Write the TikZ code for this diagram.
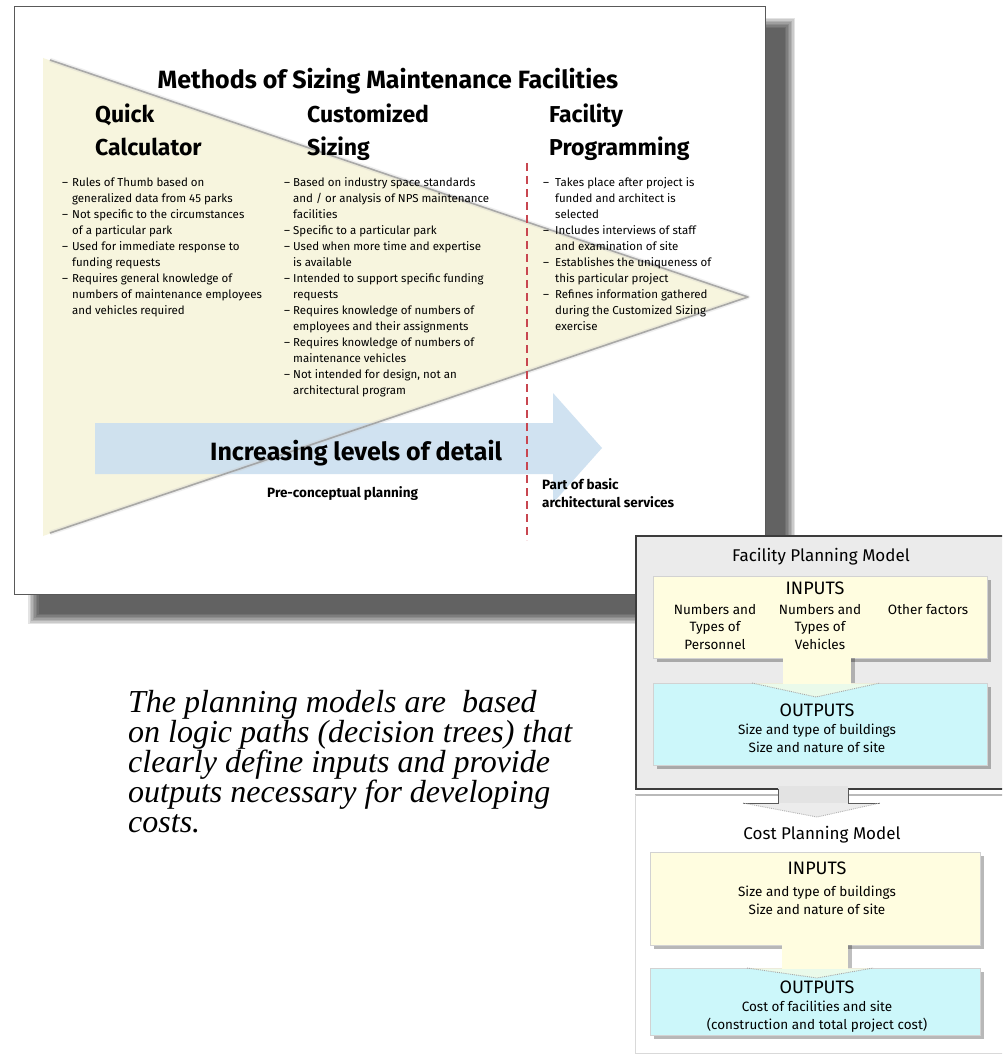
\documentclass[tikz,border=0pt]{standalone}
\usepackage{fontspec}
\newfontfamily\comic{Fira Sans}
\newfontfamily\tnr{Liberation Serif}
\definecolor{cream}{RGB}{247,245,222}
\definecolor{arrowblue}{RGB}{205,224,240}
\definecolor{dashred}{RGB}{200,70,80}
\definecolor{boxcream}{RGB}{255,253,224}
\definecolor{boxcyan}{RGB}{204,247,250}
\definecolor{framegray}{RGB}{235,235,235}
\definecolor{framedark}{RGB}{60,60,60}
\tikzset{
  titletext/.style={font=\comic\bfseries\fontsize{25}{30}\selectfont, inner sep=0, anchor=base},
  headtext/.style={font=\comic\bfseries\fontsize{23}{28}\selectfont, inner sep=0, anchor=base west},
  bullets/.style={font=\comic\fontsize{11.5}{16}\selectfont, inner sep=0, anchor=base west},
  noteb/.style={font=\comic\bfseries\fontsize{13.5}{18}\selectfont, inner sep=0, align=left},
  modeltitle/.style={font=\comic\fontsize{17}{20}\selectfont, inner sep=0, anchor=base},
  iohead/.style={font=\comic\fontsize{18}{20}\selectfont, inner sep=0, anchor=base},
  smalltext/.style={font=\comic\fontsize{13.5}{17.5}\selectfont, inner sep=0, align=center, anchor=base},
  inbox/.style={fill=boxcream, draw=gray!35, line width=.6, anchor=north west, inner sep=0},
  outbox/.style={fill=boxcyan, draw=gray!35, line width=.6, anchor=north west, inner sep=0},
  boxshadow/.style={fill=black, opacity=.28},
}
\begin{document}
\begin{tikzpicture}[x=1pt,y=-1pt]
\useasboundingbox (0,0) rectangle (1002,1056);
\fill[white] (0,0) rectangle (1002,1056);
\begin{scope}
\clip (0,0) rectangle (1002,1056);
% slide shadow
\foreach \k in {0,...,7} {
  \fill[black, opacity=.11] (28+\k*1.5,18+\k*1.5) rectangle (795-\k*1.5,624-\k*1.5);
}
% slide
\fill[white] (14,6) rectangle (765,594);
\draw[gray!70!black, line width=.9] (14,6) rectangle (765,594);
% triangle
\fill[cream] (43,58) -- (748,297) -- (43,536) -- cycle;
% blue arrow
\fill[arrowblue, opacity=.93] (95,423) -- (553,423) -- (553,393) -- (602,448) -- (553,503) -- (553,474) -- (95,474) -- cycle;
% triangle edges
\draw[gray!40, line width=4.5, opacity=.3, line join=round] (50,60) -- (748,297) -- (50,533);
\draw[gray!80, line width=1.6, opacity=.8, line join=round] (50,60) -- (748,297) -- (50,533);
% red dashed divider
\draw[dashred, line width=2.5, dash pattern=on 8pt off 5pt] (527,163) -- (527,540);

% texts of the slide
\node[titletext] (title) at (388,89) {Methods of Sizing Maintenance Facilities};
\node[headtext] (qc1) at (95,123) {Quick};
\node[headtext] (qc2) at (95,156) {Calculator};
\node[headtext] (cs1) at (307,123) {Customized};
\node[headtext] (cs2) at (307,156) {Sizing};
\node[headtext] (fp1) at (549,123) {Facility};
\node[headtext] (fp2) at (549,156) {Programming};

\node[bullets] (qcl) at (62,187) {\begin{tabular}[t]{@{}l@{\hspace{4pt}}l@{}}
– & Rules of Thumb based on\\
 & generalized data from 45 parks\\
– & Not specific to the circumstances\\
 & of a particular park\\
– & Used for immediate response to\\
 & funding requests\\
– & Requires general knowledge of\\
 & numbers of maintenance employees\\
 & and vehicles required
\end{tabular}};

\node[bullets] (csl) at (284,187) {\begin{tabular}[t]{@{}l@{\hspace{3pt}}l@{}}
– & Based on industry space standards\\
 & and / or analysis of NPS maintenance\\
 & facilities\\
– & Specific to a particular park\\
– & Used when more time and expertise\\
 & is available\\
– & Intended to support specific funding\\
 & requests\\
– & Requires knowledge of numbers of\\
 & employees and their assignments\\
– & Requires knowledge of numbers of\\
 & maintenance vehicles\\
– & Not intended for design, not an\\
 & architectural program
\end{tabular}};

\node[bullets] (fpl) at (543,187) {\begin{tabular}[t]{@{}l@{\hspace{6pt}}l@{}}
– & Takes place after project is\\
 & funded and architect is\\
 & selected\\
– & Includes interviews of staff\\
 & and examination of site\\
– & Establishes the uniqueness of\\
 & this particular project\\
– & Refines information gathered\\
 & during the Customized Sizing\\
 & exercise
\end{tabular}};

\node[titletext, anchor=base west] (incr) at (210,460) {Increasing levels of detail};
\node[noteb, anchor=base west] (precon) at (267,497) {Pre-conceptual planning};
\node[noteb, anchor=base west] (partof) at (542,507) {Part of basic\\architectural services};

% italic paragraph (base = last line)
\node[font=\tnr\itshape\fontsize{32}{30}\selectfont, inner sep=0, align=left, anchor=base west] (para) at (128,832)
  {The planning models are~ based\\on logic paths (decision trees) that\\clearly define inputs and provide\\outputs necessary for developing\\costs.};

% ===== Facility Planning Model frame =====
\node[fill=framegray, draw=framedark, line width=1.6, anchor=north west, inner sep=0,
      minimum width=380, minimum height=253] (fpm) at (635,535) {};
\node[modeltitle] (fpmt) at (821,561) {Facility Planning Model};
% inputs box
\fill[boxshadow] (657,580) rectangle (991,662);
\node[inbox, minimum width=334, minimum height=82] (fin) at (653,576) {};
\node[iohead] (finh) at (815,594) {INPUTS};
\node[smalltext] (fin1) at (715,649) {Numbers and\\Types of\\Personnel};
\node[smalltext] (fin2) at (820,649) {Numbers and\\Types of\\Vehicles};
\node[smalltext] (fin3) at (928,614) {Other factors};
% outputs box
\fill[boxshadow] (657,687) rectangle (991,769);
\node[outbox, minimum width=334, minimum height=82] (fout) at (653,683) {};
\node[iohead] (fouth) at (817,716) {OUTPUTS};
\node[smalltext] (fout1) at (817,752) {Size and type of buildings\\Size and nature of site};
% block arrow inputs -> outputs
\fill[black, opacity=.25] (851,658) rectangle (855,683);
\fill[boxcream] (783,657) rectangle (851,684);
\fill[boxcream, opacity=.6] (752,683) -- (880,683) -- (816,697) -- cycle;
\draw[gray!70, densely dotted, line width=.9] (752,683) -- (816,697) -- (880,683);

% ===== Cost Planning Model frame =====
\draw[gray!55, line width=1.4] (635,795) -- (1012,795);
\draw[gray!30, line width=.8] (635,795) -- (635,1053) -- (1012,1053);
% grey block arrow between models
\fill[gray!22] (778,786) rectangle (848,803);
\fill[gray!15] (743,803) -- (880,803) -- (817,817) -- cycle;
\draw[gray!70!black, line width=1] (778,789) -- (778,803) -- (743,803);
\draw[gray!70!black, line width=1] (848,789) -- (848,803) -- (880,803);
\draw[gray!60, densely dotted, line width=.9] (743,803) -- (817,817) -- (880,803);
\node[modeltitle] (cpmt) at (822,839) {Cost Planning Model};
% inputs
\fill[boxshadow] (654,856) rectangle (984,949);
\node[inbox, minimum width=330, minimum height=93] (cin) at (650,852) {};
\node[iohead] (cinh) at (817,874) {INPUTS};
\node[smalltext] (cin1) at (817,914) {Size and type of buildings\\Size and nature of site};
% outputs
\fill[boxshadow] (654,972) rectangle (984,1039);
\node[outbox, minimum width=330, minimum height=67] (cout) at (650,968) {};
\node[iohead] (couth) at (817,993) {OUTPUTS};
\node[smalltext] (cout1) at (817,1029) {Cost of facilities and site\\(construction and total project cost)};
% block arrow
\fill[black, opacity=.25] (848,945) rectangle (852,968);
\fill[boxcream] (782,944) rectangle (848,969);
\fill[boxcream, opacity=.6] (747,968) -- (873,968) -- (817,978) -- cycle;
\draw[gray!70, densely dotted, line width=.9] (747,968) -- (817,978) -- (873,968);
\end{scope}
\end{tikzpicture}
\end{document}
